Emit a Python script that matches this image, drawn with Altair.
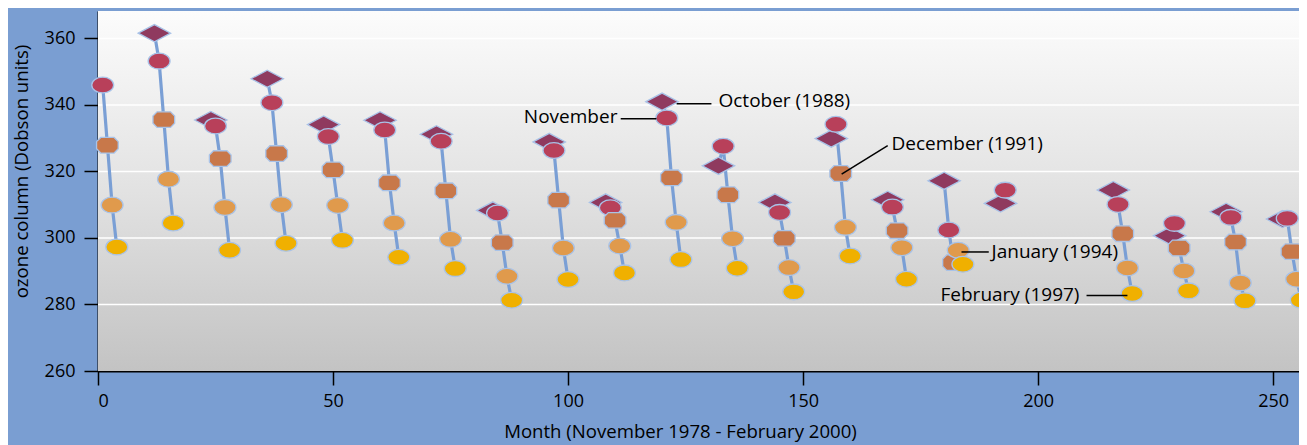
import altair as alt
import pandas as pd

# ---- data ----
season_start = [0, 12, 24, 36, 48, 60, 72, 84, 96, 108, 120, 132, 144, 156, 168, 180, 192, 204, 216, 228, 240, 252]
oct_vals = [None, 361.6, 335.5, 347.9, 334.1, 335.4, 331.2, 308.3, 328.9, 310.7, 341.0, 321.7, 310.7, 329.9, 311.5, 317.2, 310.4, None, 314.4, 300.7, 307.9, 305.7]
nov_vals = [346.0, 353.2, 333.7, 340.7, 330.5, 332.5, 329.1, 307.5, 326.3, 309.1, 336.1, 327.6, 307.7, 334.2, 309.3, 302.4, 314.4, None, 310.1, 304.4, 306.2, 305.9]
dec_vals = [327.9, 335.6, 323.9, 325.4, 320.5, 316.6, 314.2, 298.6, 311.4, 305.3, 318.1, 313.0, 299.9, 319.4, 302.2, 292.6, None, None, 301.3, 297.0, 298.8, 295.9]
jan_vals = [309.9, 317.7, 309.2, 310.0, 309.8, 304.5, 299.6, 288.5, 297.0, 297.6, 304.7, 299.8, 291.1, 303.2, 297.1, 296.3, None, None, 291.0, 290.1, 286.5, 287.6]
feb_vals = [297.3, 304.5, 296.3, 298.4, 299.3, 294.2, 290.8, 281.3, 287.5, 289.5, 293.5, 290.9, 283.8, 294.6, 287.6, 292.1, None, None, 283.3, 284.1, 281.1, 281.3]

kinds = ["October", "November", "December", "January", "February"]
kind_colors = ["#8f3a5f", "#b8405a", "#c8784a", "#e09a4c", "#f0b000"]

x_ticks = [0, 50, 100, 150, 200, 250]
y_ticks = [260, 280, 300, 320, 340, 360]
grid_vals = [280, 300, 320, 340, 360]

# annotations: label, text month, text value, align, line start/end (month, value)
ann_text = ["November", "October (1988)", "December (1991)", "January (1994)", "February (1997)"]
ann_tx = [110.5, 132.0, 168.8, 190.1, 208.8]
ann_ty = [336.5, 341.2, 328.3, 295.8, 282.9]
ann_align = ["right", "left", "left", "left", "right"]
ann_x1 = [111.2, 123.1, 158.2, 183.7, 210.3]
ann_y1 = [335.9, 340.4, 319.2, 295.8, 282.7]
ann_x2 = [118.8, 130.5, 168.0, 189.5, 219.0]
ann_y2 = [335.9, 340.4, 327.8, 295.8, 282.7]

# ---- build tables ----
rows = []
for k, s in enumerate(season_start):
    for j, arr in enumerate([oct_vals, nov_vals, dec_vals, jan_vals, feb_vals]):
        v = arr[k]
        if v is None:
            continue
        rows.append({"season": k, "month": s + j, "kind": kinds[j], "order": j, "ozone": v})
df = pd.DataFrame(rows).sort_values(["order", "month"]).reset_index(drop=True)
df_line = df.sort_values(["season", "month"])

ann = pd.DataFrame({"text": ann_text, "tx": ann_tx, "ty": ann_ty, "align": ann_align,
                    "x1": ann_x1, "y1": ann_y1, "x2": ann_x2, "y2": ann_y2})

W, H = 1201, 360
FONT = "Open Sans"

xscale = alt.Scale(domain=[0, 255.5], nice=False, zero=False)
yscale = alt.Scale(domain=[260, 368.27], nice=False, zero=False)

diamond = "M-1,0L0,-0.53L1,0L0,0.53Z"
ellipse = "M-1,0A1,0.72,0,1,1,1,0A1,0.72,0,1,1,-1,0Z"
octagon = "M-1,-0.33L-0.62,-0.72L0.62,-0.72L1,-0.33L1,0.33L0.62,0.72L-0.62,0.72L-1,0.33Z"

bg = alt.Chart(pd.DataFrame({"a": [0]})).mark_rect(
    fill=alt.Gradient(
        gradient="linear",
        stops=[alt.GradientStop(color="#fcfcfc", offset=0),
               alt.GradientStop(color="#e2e2e2", offset=0.5),
               alt.GradientStop(color="#c3c3c3", offset=1)],
        x1=0, x2=0, y1=0, y2=1,
    )
).encode(x=alt.value(0), x2=alt.value(W), y=alt.value(0), y2=alt.value(H))

grid = alt.Chart(pd.DataFrame({"g": grid_vals})).mark_rule(
    color="white", strokeWidth=1.6
).encode(y=alt.Y("g:Q", scale=yscale))

lines = alt.Chart(df_line).mark_line(color="#7a9fd5", strokeWidth=3.2).encode(
    x=alt.X("month:Q", scale=xscale),
    y=alt.Y("ozone:Q", scale=yscale),
    detail="season:N",
    order="month:Q",
)

points = alt.Chart(df).mark_point(
    filled=True, opacity=1, stroke="#a9c3e8", strokeWidth=1.3
).encode(
    x=alt.X("month:Q", scale=xscale,
            axis=alt.Axis(values=x_ticks, title="Month (November 1978 - February 2000)",
                          grid=False, titleX=582, titleY=51, titleBaseline="top",
                          titleAnchor="start", titleAlign="center")),
    y=alt.Y("ozone:Q", scale=yscale,
            axis=alt.Axis(values=y_ticks, title="ozone column (Dobson units)", grid=False,
                          titleX=-77, titleY=160, titleBaseline="middle",
                          titleAlign="center", titleAngle=-90)),
    color=alt.Color("kind:N", scale=alt.Scale(type="ordinal", domain=kinds, range=kind_colors), legend=None),
    shape=alt.Shape("kind:N", scale=alt.Scale(type="ordinal", domain=kinds, range=[diamond, ellipse, octagon, ellipse, ellipse]), legend=None),
    size=alt.Size("kind:N", scale=alt.Scale(type="ordinal", domain=kinds, range=[1050, 480, 470, 480, 480]), legend=None),
)

ann_rules = alt.Chart(ann).mark_rule(color="black", strokeWidth=1.5).encode(
    x=alt.X("x1:Q", scale=xscale), y=alt.Y("y1:Q", scale=yscale),
    x2="x2:Q", y2="y2:Q",
)

ann_left = alt.Chart(ann).transform_filter("datum.align == 'left'").mark_text(
    align="left", baseline="middle", fontSize=19, font=FONT, color="black"
).encode(x=alt.X("tx:Q", scale=xscale), y=alt.Y("ty:Q", scale=yscale), text="text:N")

ann_right = alt.Chart(ann).transform_filter("datum.align == 'right'").mark_text(
    align="right", baseline="middle", fontSize=19, font=FONT, color="black"
).encode(x=alt.X("tx:Q", scale=xscale), y=alt.Y("ty:Q", scale=yscale), text="text:N")

chart = alt.layer(bg, grid, lines, points, ann_rules, ann_left, ann_right).properties(
    width=W, height=H,
    autosize=alt.AutoSizeParams(type="none"),
    padding={"left": 90, "right": 0, "top": 3, "bottom": 74},
    background="#7a9ed2",
).configure_view(strokeWidth=0).configure_axis(
    domainColor="black", domainWidth=2, tickColor="black", tickWidth=1.5, tickSize=14,
    labelFont=FONT, labelFontSize=18, labelColor="black", labelPadding=7,
    titleFont=FONT, titleFontSize=18.6, titleColor="black", titleFontWeight="normal",
).configure_axisY(labelPadding=9)

chart.save("out.html", embed_options={"renderer": "svg", "actions": False})
